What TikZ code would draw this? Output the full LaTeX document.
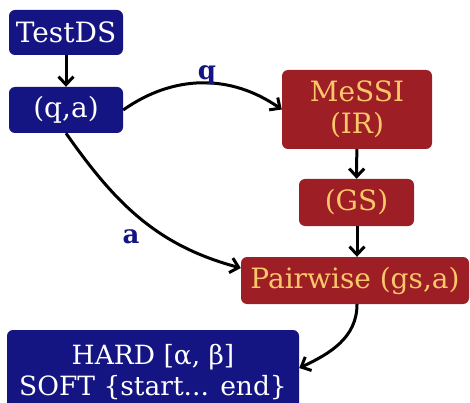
\documentclass[tikz,border=0pt]{standalone}
\usepackage{fontspec}
\setmainfont{DejaVu Serif}
\usetikzlibrary{arrows.meta}
\definecolor{dblue}{RGB}{20,20,130}
\definecolor{dred}{RGB}{158,30,38}
\definecolor{ltext}{RGB}{250,200,105}
\tikzset{
  bluebox/.style={draw=none,fill=dblue,text=white,rounded corners=6pt,inner sep=0pt,font=\fontsize{28}{32}\selectfont,align=center},
  redbox/.style={draw=none,fill=dred,text=ltext,rounded corners=6pt,inner sep=0pt,font=\fontsize{28}{32}\selectfont,align=center},
  conn/.style={line width=3pt,-{Straight Barb[length=8pt,width=15pt,line width=3pt]}},
  lbl/.style={text=dblue,font=\bfseries\fontsize{26}{30}\selectfont}
}
\begin{document}
\begin{tikzpicture}[x=1pt,y=1pt]
\useasboundingbox (0,0) rectangle (470,-403);
\node[bluebox,minimum width=114pt,minimum height=45pt] (testds) at (66,-32.5) {TestDS};
\node[bluebox,minimum width=114pt,minimum height=46pt] (qa) at (66,-110) {(q,a)};
\node[redbox,minimum width=150pt,minimum height=79pt] (messi) at (357,-109.5) {MeSSI\\(IR)};
\node[redbox,minimum width=115pt,minimum height=47pt] (gs) at (356.5,-202.5) {(GS)};
\node[redbox,minimum width=228pt,minimum height=47pt] (pair) at (355,-280.5) {Pairwise (gs,a)};
\node[bluebox,minimum width=292pt,minimum height=84pt,font=\fontsize{26.5}{31}\selectfont] (hard) at (153,-372) {HARD [α, β]\\SOFT \{start... end\}};
\draw[conn] (testds) -- (qa);
\draw[conn] (qa.east) to[bend left=35] (messi.west);
\node[lbl] (lq) at (207,-75) {q};
\draw[conn] (messi) -- (gs);
\draw[conn] (gs.south -| messi.south) -- (pair.north -| messi.south);
\draw[conn] (qa.south) to[out=-55,in=165] (pair.west |- 0,-268);
\node[lbl] (la) at (131,-237) {a};
\draw[conn] (pair.south -| messi.south) to[out=-90,in=25] (hard.east |- 0,-368);
\end{tikzpicture}
\end{document}
